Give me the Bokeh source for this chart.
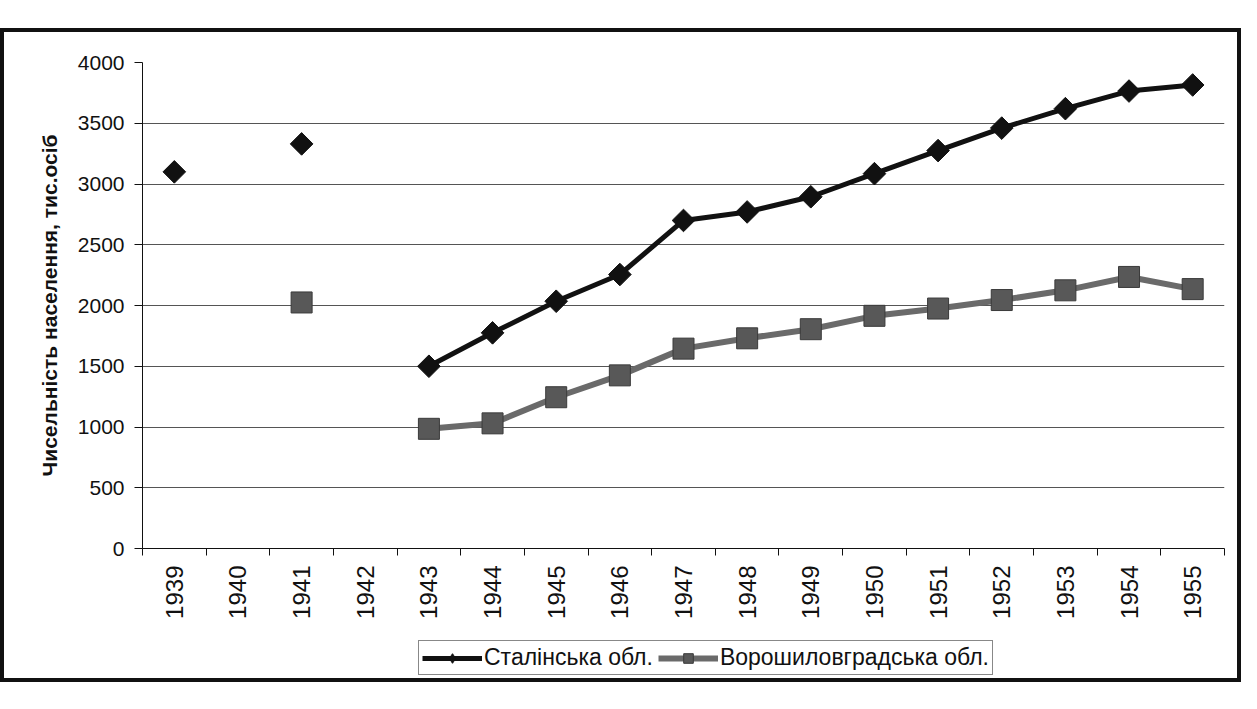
import math
from bokeh.plotting import figure
from bokeh.models import FixedTicker, Range1d, Legend, LegendItem, Spacer, ColumnDataSource
from bokeh.layouts import column
from bokeh.embed import file_html
from bokeh.resources import INLINE

nan = float("nan")

years = list(range(1939, 1956))
stalino = [3100, nan, 3330, nan, 1500, 1775, 2035, 2255, 2700, 2770, 2895,
           3085, 3275, 3460, 3620, 3765, 3815]
voroshilovgrad = [nan, nan, 2025, nan, 985, 1030, 1245, 1425, 1645, 1730, 1805,
                  1915, 1975, 2045, 2125, 2235, 2135]
y_ticks = [0, 500, 1000, 1500, 2000, 2500, 3000, 3500, 4000]
series_names = ["Сталінська обл.", "Ворошиловградська обл."]
y_title = "Чисельність населення, тис.осіб"

FONT = "Liberation Sans"
S_STYLE = dict(line_color="#111", line_width=5)
S_MARK = dict(marker="square", angle=math.pi / 4, size=16, fill_color="#111", line_color="#111")
S_LEG_MARK = dict(marker="diamond", size=18, fill_color="#111", line_color="#111")
V_STYLE = dict(line_color="#6a6a6a", line_width=6)
V_MARK = dict(marker="square", size=21, fill_color="#585858", line_color="#3a3a3a", line_width=1)

src = ColumnDataSource(dict(x=years, s=stalino, v=voroshilovgrad))

p = figure(frame_width=1082, frame_height=486, output_backend="svg", toolbar_location=None,
           x_range=Range1d(years[0] - 0.5, years[-1] + 0.5),
           y_range=Range1d(y_ticks[0], y_ticks[-1]),
           min_border_left=138, min_border_right=13, min_border_top=30,
           min_border_bottom=75)
p.background_fill_color = "white"
p.border_fill_color = "white"
p.outline_line_color = None

# x axis: labels at category centres, tick marks between categories
p.xaxis.ticker = FixedTicker(ticks=years, minor_ticks=[y - 0.5 for y in years] + [years[-1] + 0.5])
p.xaxis.major_label_orientation = math.pi / 2
p.xaxis.major_tick_line_color = None
p.xaxis.minor_tick_line_color = "#111"
p.xaxis.minor_tick_in = 0
p.xaxis.minor_tick_out = 7
p.xaxis.axis_line_color = "#111"
p.xaxis.major_label_text_font = FONT
p.xaxis.major_label_text_font_size = "24px"
p.xaxis.major_label_text_color = "#111"
p.xaxis.major_label_standoff = 10

p.yaxis.ticker = FixedTicker(ticks=y_ticks)
p.yaxis.minor_tick_line_color = None
p.yaxis.major_tick_in = 0
p.yaxis.major_tick_out = 8
p.yaxis.major_tick_line_color = "#111"
p.yaxis.axis_line_color = "#111"
p.yaxis.major_label_text_font = FONT
p.yaxis.major_label_text_font_size = "21px"
p.yaxis.major_label_text_color = "#111"
p.yaxis.major_label_standoff = 10
p.yaxis.axis_label = y_title
p.yaxis.axis_label_text_font = FONT
p.yaxis.axis_label_text_font_style = "bold"
p.yaxis.axis_label_text_font_size = "21px"
p.yaxis.axis_label_text_color = "#111"
p.yaxis.axis_label_standoff = 14

p.xgrid.grid_line_color = None
p.ygrid.grid_line_color = "#555"
p.ygrid.grid_line_width = 1

p.line("x", "s", source=src, **S_STYLE)
p.scatter("x", "s", source=src, **S_MARK)
p.line("x", "v", source=src, **V_STYLE)
p.scatter("x", "v", source=src, **V_MARK)

# legend strip below the chart (its renderers reuse the series, out of view)
leg = figure(width=1233, height=55, output_backend="svg", toolbar_location=None,
             x_range=Range1d(0, 1), y_range=Range1d(0, 1),
             x_axis_type=None, y_axis_type=None,
             min_border_left=0, min_border_right=0, min_border_top=0, min_border_bottom=0)
leg.outline_line_color = None
leg.background_fill_color = "white"
leg.border_fill_color = "white"
leg.xgrid.visible = False
leg.ygrid.visible = False
dl1 = leg.line("x", "s", source=src, **S_STYLE)
dm1 = leg.scatter("x", "s", source=src, **S_LEG_MARK)
dl2 = leg.line("x", "v", source=src, **V_STYLE)
dm2 = leg.scatter("x", "v", source=src, **V_MARK)

legend = Legend(items=[LegendItem(label=series_names[0], renderers=[dl1, dm1]),
                       LegendItem(label=series_names[1], renderers=[dl2, dm2])],
                orientation="horizontal", location=(276, 3),
                label_text_font=FONT, label_text_font_size="23px", label_text_color="#111",
                border_line_color="#111", border_line_width=1,
                padding=3, spacing=5, margin=0, glyph_width=60, glyph_height=24,
                label_height=24, label_standoff=2, background_fill_alpha=1)
leg.add_layout(legend, "center")

page = column(Spacer(height=28),
              column(p, leg, styles={"border": "4px solid #111", "background": "white"}))
open("out.html", "w").write(file_html(page, INLINE))
